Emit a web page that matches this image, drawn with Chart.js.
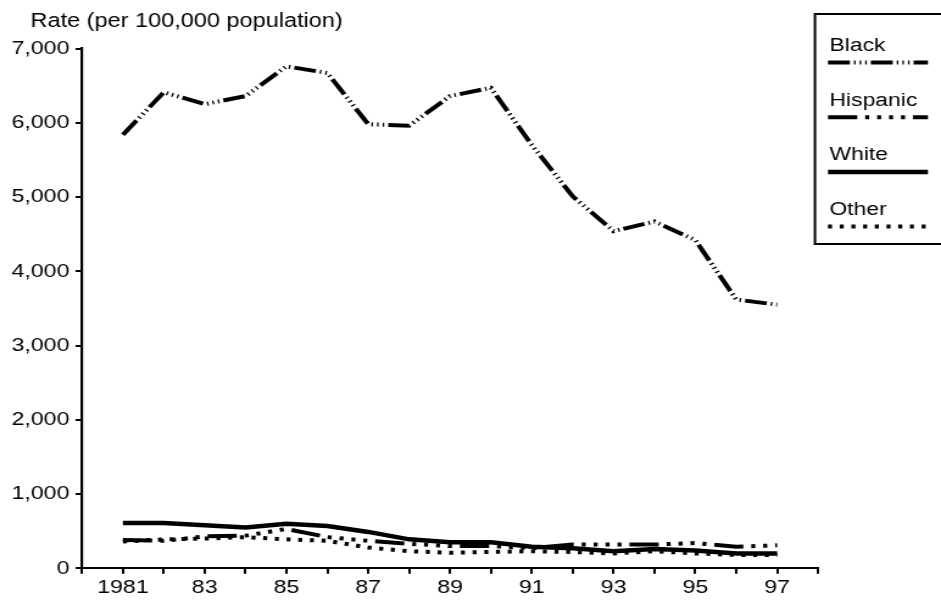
<!DOCTYPE html>
<html>
<head>
<meta charset="utf-8">
<script src="https://cdn.jsdelivr.net/npm/chart.js@4"></script>
<style>
  html, body { margin: 0; padding: 0; background: #fff; overflow: hidden; }
  #wrap { width: 941px; height: 601px; overflow: hidden; }
  /* the chart is laid out narrow and widened, so type and marks come out broad */
  #canvas { transform: scaleX(1.2189); transform-origin: 0 0; }
</style>
</head>
<body>
<div id="wrap"><canvas id="canvas" width="772" height="601"></canvas></div>
<script>
// rates per 100,000 population, 1981-1997
const years = [1981, 1982, 1983, 1984, 1985, 1986, 1987, 1988, 1989,
               1990, 1991, 1992, 1993, 1994, 1995, 1996, 1997];
const black    = [5840, 6410, 6250, 6360, 6760, 6670, 5980, 5960, 6360,
                  6470, 5700, 5010, 4540, 4670, 4420, 3620, 3550];
const hispanic = [380, 370, 430, 440, 530, 420, 370, 330, 300,
                  300, 270, 320, 320, 320, 340, 290, 310];
const white    = [610, 610, 580, 550, 600, 570, 490, 390, 350,
                  350, 290, 270, 230, 260, 240, 200, 200];
const other    = [360, 390, 400, 420, 390, 370, 280, 230, 210,
                  220, 230, 220, 200, 230, 200, 180, 180];
const yearLabels = ['1981', '83', '85', '87', '89', '91', '93', '95', '97'];
const titleText = 'Rate (per 100,000 population)';

const FONT = '"Liberation Sans", Arial, sans-serif';
const ctx = document.getElementById('canvas').getContext('2d');

const points = vals => years.map((y, i) => ({ x: y, y: vals[i] }));

function yearTick(v) {
    const k = (v - 1981) / 2;
    return Number.isInteger(k) && k >= 0 && k < yearLabels.length ? yearLabels[k] : '';
}

const titlePlugin = {
    id: 'rateTitle',
    afterDraw(chart) {
        const c = chart.ctx;
        c.save();
        c.fillStyle = '#000';
        c.font = '19.3px ' + FONT;
        c.textBaseline = 'alphabetic';
        c.textAlign = 'left';
        c.fillText(titleText, 25, 26.5);
        c.restore();
    }
};

// boxed legend on the right with long line samples
const boxLegend = {
    id: 'boxLegend',
    afterDraw(chart) {
        const c = chart.ctx;
        c.save();
        c.strokeStyle = '#000';
        c.lineWidth = 2;
        c.setLineDash([]);
        c.strokeRect(668.6, 14, 130, 230);
        chart.data.datasets.forEach((ds, i) => {
            const base = 51 + i * 54.7;
            c.fillStyle = '#000';
            c.font = '18.8px ' + FONT;
            c.textBaseline = 'alphabetic';
            c.textAlign = 'left';
            c.fillText(ds.label, 680.5, base);
            c.strokeStyle = '#000';
            c.lineWidth = ds.borderWidth;
            c.lineCap = 'butt';
            c.setLineDash(ds.borderDash || []);
            c.beginPath();
            c.moveTo(679.3, base + 11.5);
            c.lineTo(761.3, base + 11.5);
            c.stroke();
        });
        c.restore();
    }
};

const lineSet = (label, vals, dash, width) => ({
    label,
    data: points(vals),
    borderColor: '#000',
    backgroundColor: '#000',
    borderWidth: width,
    borderDash: dash,
    borderCapStyle: 'butt',
    borderJoinStyle: 'miter',
    pointRadius: 0,
    tension: 0,
    fill: false
});

const config = {
    type: 'line',
    data: {
        datasets: [
            lineSet('Black', black, [18, 3.3, 1.3, 3.3, 1.3, 3.3, 1.3, 3.3], 4),
            lineSet('Hispanic', hispanic, [24, 6.5, 3.3, 6.5, 3.3, 6.5, 3.3, 6.5, 3.3, 6.5], 4),
            lineSet('White', white, [], 4.5),
            lineSet('Other', other, [3.3, 6.3], 4)
        ]
    },
    options: {
        responsive: false,
        animation: false,
        devicePixelRatio: 1,
        layout: { padding: { top: 48.5, right: 100.9, bottom: 0, left: 0 } },
        plugins: {
            legend: { display: false },
            tooltip: { enabled: false },
            title: { display: false }
        },
        scales: {
            x: {
                type: 'linear',
                min: 1980,
                max: 1998,
                border: { display: true, color: '#000', width: 2 },
                grid: { drawOnChartArea: false, drawTicks: true, tickLength: 5.5, color: '#000', lineWidth: 2 },
                ticks: {
                    stepSize: 1,
                    autoSkip: false,
                    maxRotation: 0,
                    padding: 3,
                    color: '#000',
                    font: { family: FONT, size: 19 },
                    callback: yearTick
                },
                afterFit: s => { s.height = 32.7; }
            },
            y: {
                min: 0,
                max: 7000,
                border: { display: true, color: '#000', width: 2.2 },
                grid: { drawOnChartArea: false, drawTicks: true, tickLength: 5.3, color: '#000', lineWidth: 2 },
                ticks: {
                    stepSize: 1000,
                    padding: 5,
                    color: '#000',
                    font: { family: FONT, size: 19 },
                    callback: v => v.toLocaleString('en-US')
                },
                afterFit: s => { s.width = 67.3; }
            }
        }
    },
    plugins: [titlePlugin, boxLegend]
};

new Chart(ctx, config);
</script>
</body>
</html>
